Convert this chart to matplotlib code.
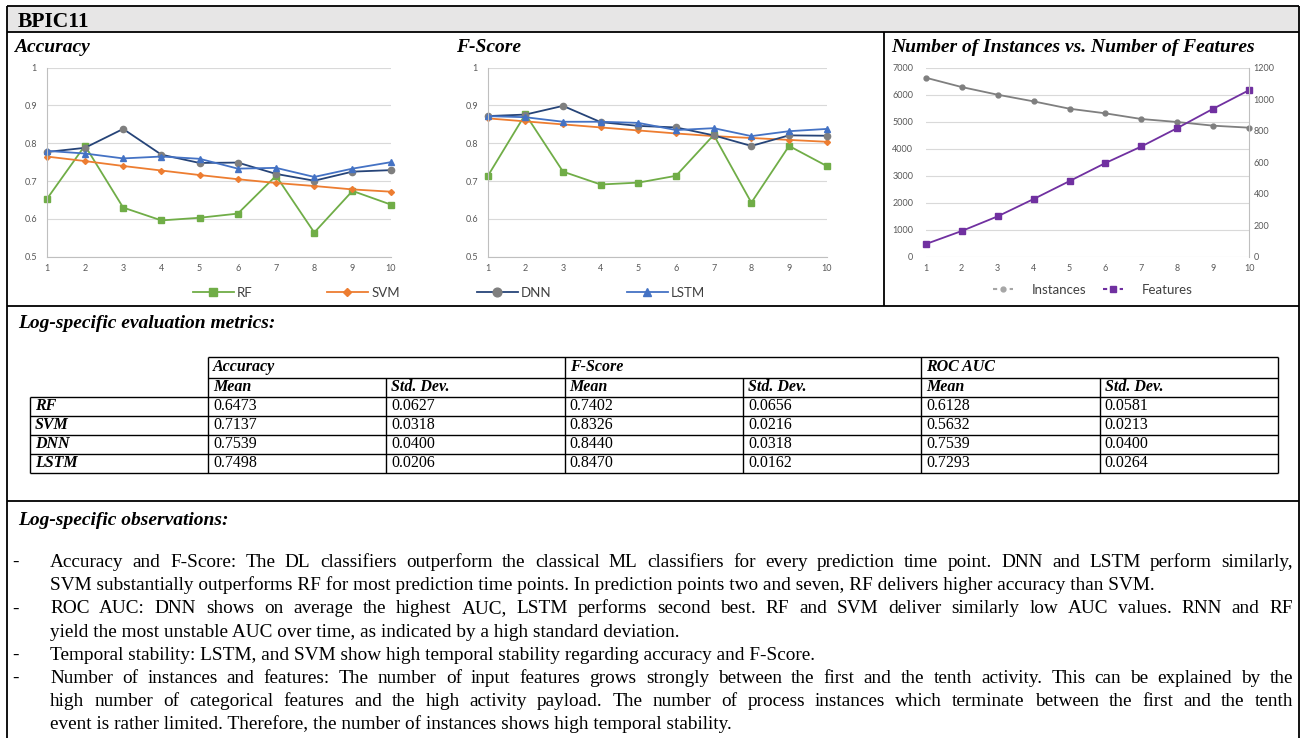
import matplotlib
matplotlib.use("Agg")
import matplotlib.pyplot as plt
from matplotlib.lines import Line2D
from matplotlib.patches import Rectangle
from matplotlib.ticker import FuncFormatter, MultipleLocator

plt.rcParams['font.family'] = ['Lato', 'DejaVu Sans']

# ---- data ----
steps = list(range(1, 11))

acc_rf = [0.652, 0.794, 0.630, 0.596, 0.603, 0.614, 0.714, 0.564, 0.674, 0.638]
acc_svm = [0.765, 0.753, 0.740, 0.728, 0.716, 0.705, 0.695, 0.687, 0.678, 0.672]
acc_dnn = [0.777, 0.788, 0.838, 0.770, 0.748, 0.749, 0.719, 0.701, 0.725, 0.729]
acc_lstm = [0.780, 0.773, 0.760, 0.765, 0.759, 0.733, 0.735, 0.711, 0.733, 0.750]

f_rf = [0.713, 0.877, 0.725, 0.691, 0.696, 0.714, 0.822, 0.643, 0.793, 0.740]
f_svm = [0.866, 0.858, 0.850, 0.842, 0.834, 0.826, 0.819, 0.814, 0.809, 0.804]
f_dnn = [0.872, 0.876, 0.899, 0.856, 0.846, 0.842, 0.821, 0.793, 0.821, 0.820]
f_lstm = [0.872, 0.869, 0.857, 0.857, 0.854, 0.835, 0.840, 0.819, 0.832, 0.838]

instances = [6630, 6284, 6000, 5753, 5481, 5309, 5099, 4988, 4852, 4778]
features = [80, 163, 256, 366, 480, 595, 700, 817, 940, 1058]

models = ["RF", "SVM", "DNN", "LSTM"]
metric_groups = ["Accuracy", "F-Score", "ROC AUC"]
stat_names = ["Mean", "Std. Dev."]
table_vals = [
    ["0.6473", "0.0627", "0.7402", "0.0656", "0.6128", "0.0581"],
    ["0.7137", "0.0318", "0.8326", "0.0216", "0.5632", "0.0213"],
    ["0.7539", "0.0400", "0.8440", "0.0318", "0.7539", "0.0400"],
    ["0.7498", "0.0206", "0.8470", "0.0162", "0.7293", "0.0264"],
]

# (text, has bullet, justified)
obs_lines = [
    ("Accuracy and F-Score: The DL classifiers outperform the classical ML classifiers for every prediction time point. DNN and LSTM perform similarly,", True, True),
    ("SVM substantially outperforms RF for most prediction time points. In prediction points two and seven, RF delivers higher accuracy than SVM.", False, False),
    ("ROC AUC: DNN shows on average the highest AUC, LSTM performs second best. RF and SVM deliver similarly low AUC values. RNN and RF", True, True),
    ("yield the most unstable AUC over time, as indicated by a high standard deviation.", False, False),
    ("Temporal stability: LSTM, and SVM show high temporal stability regarding accuracy and F-Score.", True, False),
    ("Number of instances and features: The number of input features grows strongly between the first and the tenth activity. This can be explained by the", True, True),
    ("high number of categorical features and the high activity payload. The number of process instances which terminate between the first and the tenth", False, True),
    ("event is rather limited. Therefore, the number of instances shows high temporal stability.", False, False),
]

GREEN, ORANGE, NAVY, GRAY, BLUE, PURPLE = '#70AD47', '#ED7D31', '#264478', '#7F7F7F', '#4472C4', '#7030A0'
SERIF = 'Liberation Serif'

W, H = 1300, 738
fig = plt.figure(figsize=(W / 100, H / 100), dpi=100)

# full-size canvas in pixel units for the frame, headings and table
bg = fig.add_axes([0, 0, 1, 1])
bg.set_xlim(0, W)
bg.set_ylim(H, 0)
bg.axis('off')


def hline(y, x0, x1, lw=1.3):
    bg.plot([x0, x1], [y, y], color='black', lw=lw, clip_on=False, solid_capstyle='butt')


def vline(x, y0, y1, lw=1.3):
    bg.plot([x, x], [y0, y1], color='black', lw=lw, clip_on=False, solid_capstyle='butt')


# frame
bg.add_patch(Rectangle((7, 6), 1292, 26, facecolor='#E7E6E6', edgecolor='none'))
hline(6, 7, 1299)
hline(32, 7, 1299)
hline(306, 7, 1299)
hline(501, 7, 1299)
vline(7, 6, 738)
vline(1299, 6, 738)
vline(884, 32, 306)

bg.text(18, 27, "BPIC11", fontfamily=SERIF, fontweight='bold', fontsize=15.5, va='baseline')
head = dict(fontfamily=SERIF, fontweight='bold', fontstyle='italic', fontsize=14, va='baseline')
bg.text(14, 52, "Accuracy", **head)
bg.text(456, 52, "F-Score", **head)
bg.text(891, 52, "Number of Instances vs. Number of Features", **head)
bg.text(18, 328, "Log-specific evaluation metrics:", **head)
bg.text(18, 525, "Log-specific observations:", **head)


def px_axes(x0, y0, x1, y1):
    return fig.add_axes([x0 / W, 1 - y1 / H, (x1 - x0) / W, (y1 - y0) / H])


def excel_style(ax):
    ax.set_facecolor('none')
    for s in ax.spines.values():
        s.set_visible(False)
    ax.grid(axis='y', color='#D9D9D9', lw=0.8)
    ax.grid(axis='x', visible=False)
    ax.set_axisbelow(True)
    ax.tick_params(length=0, labelsize=6.5, colors='#595959')
    ax.set_xlim(1, 10)
    ax.set_xticks(steps)


fmt = FuncFormatter(lambda v, p: '{:g}'.format(round(v, 3)))


def score_chart(ax, rf, svm, dnn, lstm):
    excel_style(ax)
    ax.set_ylim(0.5, 1.0)
    ax.yaxis.set_major_locator(MultipleLocator(0.1))
    ax.yaxis.set_major_formatter(fmt)
    ax.spines['left'].set_visible(True)
    ax.spines['left'].set_color('#BFBFBF')
    ax.spines['bottom'].set_visible(True)
    ax.spines['bottom'].set_color('#BFBFBF')
    ax.tick_params(axis='y', pad=7)
    ax.tick_params(axis='x', pad=5)
    h = []
    h += ax.plot(steps, rf, color=GREEN, marker='s', ms=4, lw=1.3, clip_on=False)
    h += ax.plot(steps, svm, color=ORANGE, marker='D', ms=3, lw=1.3, clip_on=False)
    h += ax.plot(steps, dnn, color=NAVY, marker='o', ms=4.5, mfc=GRAY, mec=GRAY, lw=1.3, clip_on=False)
    h += ax.plot(steps, lstm, color=BLUE, marker='^', ms=4.5, lw=1.3, clip_on=False)
    return h


ax1 = px_axes(46.7, 67.7, 390.7, 256.7)
handles = score_chart(ax1, acc_rf, acc_svm, acc_dnn, acc_lstm)
ax2 = px_axes(487.7, 67.7, 826.7, 256.7)
score_chart(ax2, f_rf, f_svm, f_dnn, f_lstm)

# legend under the two score charts, equal spacing like Excel
leg_x = [193, 327, 477, 627]
for hd, name, x in zip(handles, models, leg_x):
    fig.legend(handles=[hd], labels=[name], loc='center left', bbox_to_anchor=(x / W, 1 - 293 / H),
               frameon=False, handlelength=3.1, handletextpad=0.25, borderpad=0, borderaxespad=0,
               prop={'size': 9.5}, labelcolor='#404040', markerscale=1.4)

# instances vs features
ax3 = px_axes(925.7, 67.7, 1249.3, 256.7)
excel_style(ax3)
ax3.set_ylim(0, 7000)
ax3.yaxis.set_major_locator(MultipleLocator(1000))
ax3.tick_params(axis='y', pad=9)
ax3.tick_params(axis='x', pad=5)
ax3.plot(steps, instances, color=GRAY, marker='o', ms=3.5, lw=1.3, clip_on=False)
ax4 = ax3.twinx()
ax4.set_facecolor('none')
for s in ax4.spines.values():
    s.set_visible(False)
ax4.spines['right'].set_visible(True)
ax4.spines['right'].set_color('#BFBFBF')
ax4.set_ylim(0, 1200)
ax4.yaxis.set_major_locator(MultipleLocator(200))
ax4.tick_params(length=0, labelsize=6.5, colors='#595959', pad=3)
ax4.plot(steps, features, color=PURPLE, marker='s', ms=4, lw=1.3, clip_on=False)

inst_h = [Line2D([0], [0], color='#A6A6A6', ls=(0, (2, 2)), lw=1.5, marker='o', ms=3.5),
          Line2D([0], [0], color=PURPLE, ls=(0, (2, 2)), lw=1.5, marker='s', ms=4)]
fig.legend(handles=inst_h, labels=["Instances", "Features"], loc='center', ncol=2,
           bbox_to_anchor=(1093 / W, 1 - 290 / H), frameon=False, handlelength=1.5,
           handletextpad=1.4, columnspacing=1.3, prop={'size': 9.5}, labelcolor='#404040')

# ---- metrics table ----
t_left, t_lab, t_right = 30, 208, 1278
colw = (t_right - t_lab) / 6
col_x = [t_lab + i * colw for i in range(7)]
row_y = [357, 377.5, 396.5, 415.5, 434.5, 453.5, 472.5]

hline(row_y[0], t_lab, t_right, 1.0)
hline(row_y[1], t_lab, t_right, 1.0)
for y in row_y[2:]:
    hline(y, t_left, t_right, 1.0)
vline(t_left, row_y[2], row_y[-1], 1.0)
for i, x in enumerate(col_x):
    vline(x, row_y[0] if i % 2 == 0 else row_y[1], row_y[-1], 1.0)

tb_head = dict(fontfamily=SERIF, fontweight='bold', fontstyle='italic', fontsize=11.5, va='center')
tb_val = dict(fontfamily=SERIF, fontsize=11.5, va='center')
for g, name in enumerate(metric_groups):
    bg.text(col_x[2 * g] + 5, (row_y[0] + row_y[1]) / 2, name, **tb_head)
    for s, st in enumerate(stat_names):
        bg.text(col_x[2 * g + s] + 5, (row_y[1] + row_y[2]) / 2, st, **tb_head)
for r, name in enumerate(models):
    yc = (row_y[r + 2] + row_y[r + 3]) / 2
    bg.text(t_left + 5, yc, name, **tb_head)
    for c, v in enumerate(table_vals[r]):
        bg.text(col_x[c] + 5, yc, v, **tb_val)

# ---- observations, justified like the source document ----
renderer = fig.canvas.get_renderer()
obs_font = dict(fontfamily=SERIF, fontsize=13.9, va='baseline')
x_text, x_right = 50, 1293
y = 567
for text, bullet, justify in obs_lines:
    if bullet:
        bg.text(12, y, "-", **obs_font)
    if justify:
        words = text.split()
        objs = [bg.text(0, y, w, **obs_font) for w in words]
        widths = [o.get_window_extent(renderer).width for o in objs]
        gap = (x_right - x_text - sum(widths)) / (len(words) - 1)
        x = x_text
        for o, w in zip(objs, widths):
            o.set_x(x)
            x += w + gap
    else:
        bg.text(x_text, y, text, **obs_font)
    y += 23.2

fig.savefig('out.png', dpi=100)
